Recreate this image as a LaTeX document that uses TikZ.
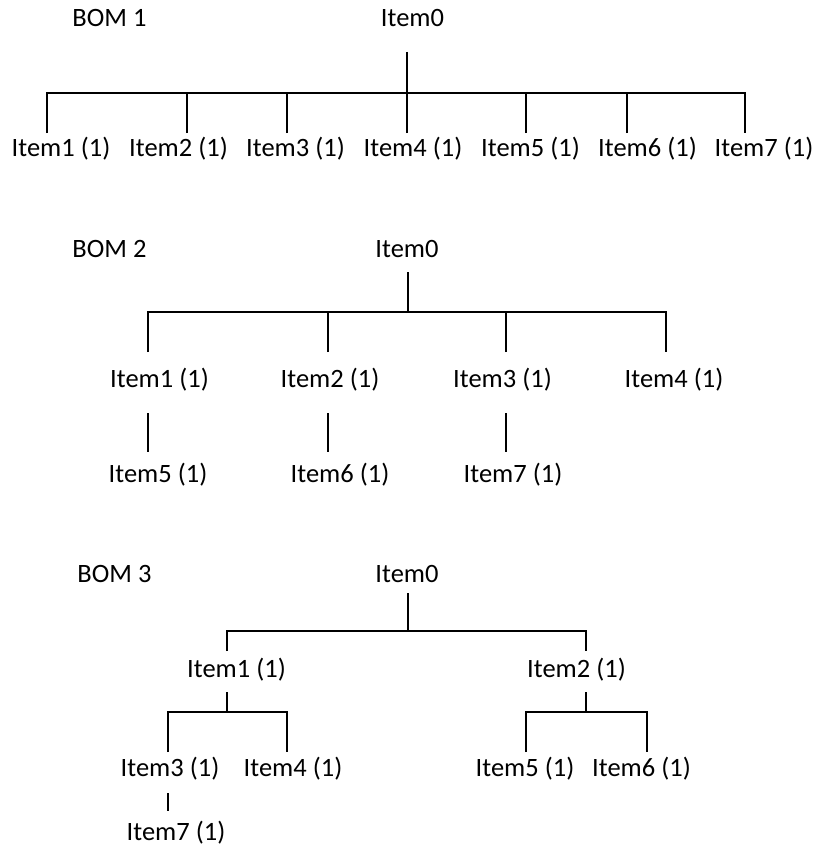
\documentclass[tikz,border=0pt]{standalone}
\usepackage{fontspec}
\setmainfont{Carlito}
\tikzset{
	item/.style={anchor=base, inner sep=0pt, font=\fontsize{26.5}{31}\selectfont},
	link/.style={line width=1.7pt}
}

\begin{document}
\begin{tikzpicture}[x=1pt, y=-1pt]
		\useasboundingbox (0, 0) rectangle (817, 848);
		%%%%% BOM 1 %%%%%
		
		\node[item] (t1) at (109.5, 27) {BOM 1};
		\node[item] (a0) at (412.5, 27) {Item0};
		\foreach \i/\x in {1/61, 2/178.5, 3/295.5, 4/413, 5/530.5, 6/647.5, 7/764}
			\node[item] (a\i) at (\x, 157) {Item\i{} (1)};
		
		\coordinate (a0s) at (407, 52);
		\coordinate (a0j) at (407, 93);
		\foreach \i/\x in {1/47, 2/187, 3/287, 4/407, 5/526, 6/627, 7/745}
			\coordinate (ae\i) at (\x, 133);
		
		\draw[link] (a0s) -- (a0j);
		\draw[link] (ae1) |- (ae7 |- a0j) -- (ae7);
		\foreach \i in {2,...,6}
			\draw[link] (ae\i) -- (ae\i |- a0j);
		
		%%%%% BOM 2 %%%%%
		
		\node[item] (t2) at (109.5, 257) {BOM 2};
		\node[item] (b0) at (407, 257) {Item0};
		\foreach \i/\x in {1/159.5, 2/330, 3/502.5, 4/674}
			\node[item] (b\i) at (\x, 387) {Item\i{} (1)};
		\foreach \i/\x in {5/158, 6/340, 7/513}
			\node[item] (b\i) at (\x, 482) {Item\i{} (1)};
		
		\coordinate (b0s) at (408, 272);
		\coordinate (b0j) at (408, 312);
		\foreach \i/\x in {1/148, 2/328, 3/506, 4/666}
			\coordinate (be\i) at (\x, 352);
		\foreach \i/\x in {1/148, 2/328, 3/506} {
			\coordinate (bs\i) at (\x, 413);
			\coordinate (bf\i) at (\x, 452);
		}
		
		\draw[link] (b0s) -- (b0j);
		\draw[link] (be1) |- (be4 |- b0j) -- (be4);
		\foreach \i in {2,3}
			\draw[link] (be\i) -- (be\i |- b0j);
		\foreach \i in {1,2,3}
			\draw[link] (bs\i) -- (bf\i);
		
		%%%%% BOM 3 %%%%%
		
		\node[item] (t3) at (114.5, 582) {BOM 3};
		\node[item] (c0) at (407, 582) {Item0};
		\node[item] (c1) at (236.5, 677) {Item1 (1)};
		\node[item] (c2) at (576.5, 677) {Item2 (1)};
		\node[item] (c3) at (170, 776) {Item3 (1)};
		\node[item] (c4) at (293, 776) {Item4 (1)};
		\node[item] (c5) at (525, 776) {Item5 (1)};
		\node[item] (c6) at (641.5, 776) {Item6 (1)};
		\node[item] (c7) at (176, 840) {Item7 (1)};
		
		\coordinate (c0s) at (408, 593);
		\coordinate (c0j) at (408, 631);
		\coordinate (ce1) at (227, 651);
		\coordinate (ce2) at (586, 651);
		\coordinate (c1s) at (227, 692);
		\coordinate (c1j) at (227, 712);
		\coordinate (c2s) at (586, 692);
		\coordinate (c2j) at (586, 712);
		\coordinate (ce3) at (168, 752);
		\coordinate (ce4) at (287, 752);
		\coordinate (ce5) at (526, 752);
		\coordinate (ce6) at (647, 752);
		\coordinate (c3s) at (168, 793);
		\coordinate (ce7) at (168, 811);
		
		\draw[link] (c0s) -- (c0j);
		\draw[link] (ce1) |- (ce2 |- c0j) -- (ce2);
		\draw[link] (c1s) -- (c1j);
		\draw[link] (ce3) |- (ce4 |- c1j) -- (ce4);
		\draw[link] (c2s) -- (c2j);
		\draw[link] (ce5) |- (ce6 |- c2j) -- (ce6);
		\draw[link] (c3s) -- (ce7);
		
		%%%%% END %%%%%
\end{tikzpicture}
\end{document}
